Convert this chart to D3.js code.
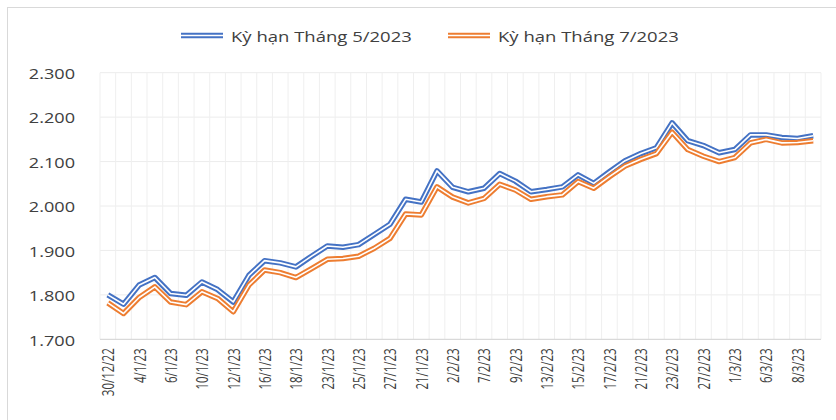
<!DOCTYPE html>
<html><head><meta charset="utf-8">
<script src="https://cdn.jsdelivr.net/npm/d3@7/dist/d3.min.js"></script>
<style>
html,body{margin:0;padding:0;background:#fff;}
svg{display:block;font-family:"Open Sans",sans-serif;}
</style></head>
<body><svg id="chart" width="836" height="420"></svg>
<script>
const categories = ["30/12/22","3/1/23","4/1/23","5/1/23","6/1/23","9/1/23","10/1/23","11/1/23","12/1/23","13/1/23",
"16/1/23","17/1/23","18/1/23","19/1/23","23/1/23","24/1/23","25/1/23","26/1/23","27/1/23","30/1/23",
"21/1/23","1/2/23","2/2/23","6/2/23","7/2/23","8/2/23","9/2/23","10/2/23","13/2/23","14/2/23",
"15/2/23","16/2/23","17/2/23","20/2/23","21/2/23","22/2/23","23/2/23","24/2/23","27/2/23","28/2/23",
"1/3/23","2/3/23","6/3/23","7/3/23","8/3/23","9/3/23"];
const seriesNames = ["Kỳ hạn Tháng 5/2023","Kỳ hạn Tháng 7/2023"];
const may2023 = [1.800,1.779,1.822,1.839,1.803,1.799,1.829,1.812,1.784,1.844,
1.877,1.872,1.863,1.887,1.910,1.907,1.913,1.936,1.959,2.015,
2.009,2.079,2.042,2.032,2.040,2.073,2.056,2.032,2.037,2.043,
2.070,2.051,2.077,2.102,2.118,2.131,2.187,2.147,2.136,2.120,
2.127,2.160,2.160,2.154,2.152,2.158];
const jul2023 = [1.782,1.758,1.794,1.818,1.784,1.778,1.807,1.792,1.762,1.822,
1.856,1.850,1.839,1.859,1.880,1.882,1.887,1.905,1.927,1.982,
1.980,2.043,2.020,2.007,2.017,2.049,2.036,2.015,2.021,2.025,
2.055,2.040,2.066,2.090,2.105,2.118,2.166,2.127,2.112,2.100,
2.109,2.142,2.150,2.142,2.143,2.147];
const yTicks = [1.7,1.8,1.9,2.0,2.1,2.2,2.3];
const colors = ["#4472C4","#ED7D31"];

const svg = d3.select("#chart");
const L = 100, R = 821, T = 72.7, B = 339.3;
const SX = 1.25;

// outer border
svg.append("rect").attr("x",7.5).attr("y",7.5).attr("width",840).attr("height",430)
  .attr("fill","none").attr("stroke","#d9d9d9").attr("stroke-width",1);

const x = d3.scaleBand().domain(categories).range([L,R]).padding(0);
const y = d3.scaleLinear().domain([1.7,2.3]).range([B,T]);
const cx = c => x(c) + x.bandwidth()/2;

// horizontal gridlines
svg.append("g").selectAll("line").data(yTicks.slice(1)).join("line")
  .attr("x1",L).attr("x2",R).attr("y1",d=>y(d)).attr("y2",d=>y(d))
  .attr("stroke","#ececec").attr("stroke-width",1);
// vertical gridlines at category boundaries
const bounds = categories.map(c=>x(c)).concat([R]);
svg.append("g").selectAll("line").data(bounds).join("line")
  .attr("x1",d=>d).attr("x2",d=>d).attr("y1",T).attr("y2",B)
  .attr("stroke","#efefef").attr("stroke-width",1);
// bottom axis line
svg.append("line").attr("x1",L).attr("x2",R).attr("y1",B).attr("y2",B)
  .attr("stroke","#d9d9d9").attr("stroke-width",1.2);

// y labels
const yAxis = d3.axisLeft(y).tickValues(yTicks).tickFormat(d=>d3.format(".3f")(d)).tickSize(0).tickPadding(0);
const yg = svg.append("g").attr("transform",`translate(${L},0)`).call(yAxis);
yg.select(".domain").remove();
yg.selectAll(".tick text").each(function(d){
  const t = d3.select(this);
  t.attr("x",null).attr("dy",null)
   .attr("transform",`translate(-25,${0}) scale(${SX},1)`)
   .attr("dominant-baseline","central")
   .attr("text-anchor","end")
   .attr("fill","#404040").attr("font-size","14.5px")
   .attr("font-family","'Open Sans',sans-serif");
});

// x labels (every second category)
const xAxis = d3.axisBottom(x).tickValues(categories.filter((c,i)=>i%2===0)).tickSize(0);
const xg = svg.append("g").attr("transform",`translate(0,${B})`).call(xAxis);
xg.select(".domain").remove();
xg.selectAll(".tick text")
  .attr("y",null).attr("dy",null)
  .attr("transform",`translate(0,9) scale(1.4,1) rotate(-90)`)
  .attr("text-anchor","end").attr("dominant-baseline","central")
  .attr("fill","#404040").attr("font-size","11.5px")
  .attr("font-family","'Open Sans',sans-serif");

// lines (double compound style)
const line = d3.line().x((d,i)=>cx(categories[i])).y(d=>y(d));
[may2023, jul2023].forEach((s,k)=>{
  svg.append("path").datum(s).attr("d",line).attr("fill","none")
    .attr("stroke",colors[k]).attr("stroke-width",5.5).attr("stroke-linejoin","round");
  svg.append("path").datum(s).attr("d",line).attr("fill","none")
    .attr("stroke","#fff").attr("stroke-width",1.6).attr("stroke-linejoin","round");
});

// legend
const legendItems = [{x0:181,tx:231},{x0:448,tx:498}];
legendItems.forEach((it,k)=>{
  const g = svg.append("g");
  g.append("line").attr("x1",it.x0).attr("x2",it.x0+42).attr("y1",35.5).attr("y2",35.5)
    .attr("stroke",colors[k]).attr("stroke-width",5.5);
  g.append("line").attr("x1",it.x0).attr("x2",it.x0+42).attr("y1",35.5).attr("y2",35.5)
    .attr("stroke","#fff").attr("stroke-width",1.6);
  g.append("text").attr("transform",`translate(${it.tx},36) scale(${SX},1)`)
    .attr("dominant-baseline","central").attr("fill","#404040")
    .attr("font-size","14.8px").text(seriesNames[k]);
});
</script></body></html>
